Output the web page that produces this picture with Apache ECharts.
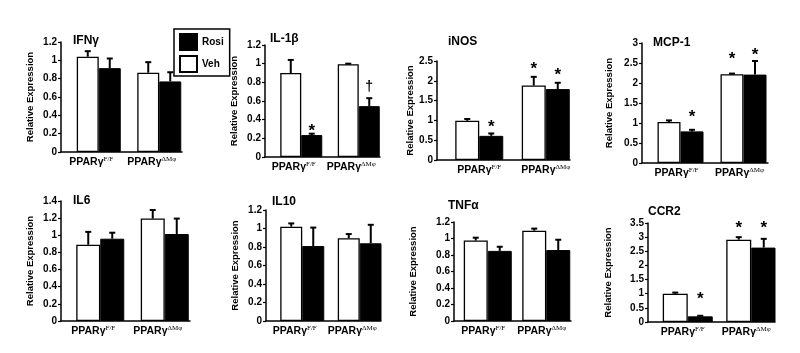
<!DOCTYPE html>
<html>
<head>
<meta charset="utf-8">
<script src="https://cdn.jsdelivr.net/npm/echarts@6/dist/echarts.min.js"></script>
<style>
  html, body { margin: 0; padding: 0; background: #fff; }
  #chart { width: 800px; height: 353px; }
</style>
</head>
<body>
<div id="chart"></div>
<script>
// gene panels, left to right, top row then bottom row
const genes = ['IFNγ', 'IL-1β', 'iNOS', 'MCP-1', 'IL6', 'IL10', 'TNFα', 'CCR2']
const genotypes = ['PPARγF/F', 'PPARγΔMφ']
const yMax = [1.2, 1.2, 2.5, 3, 1.4, 1.2, 1.2, 3.5]
const yStep = [0.2, 0.2, 0.5, 0.5, 0.2, 0.2, 0.2, 0.5]

// mean and top of error bar, [F/F, ΔMφ]
const vehMean = [[1.04, 0.865], [0.90, 0.995], [0.99, 1.88], [1.025, 2.22], [0.89, 1.195], [1.02, 0.895], [0.975, 1.095], [1.0, 2.91]]
const vehTop  = [[1.10, 0.98], [1.04, 1.0], [1.035, 2.10], [1.065, 2.235], [1.04, 1.295], [1.055, 0.94], [1.01, 1.12], [1.04, 3.0]]
const rosiMean = [[0.915, 0.77], [0.235, 0.545], [0.61, 1.79], [0.79, 2.21], [0.96, 1.015], [0.81, 0.84], [0.85, 0.86], [0.20, 2.63]]
const rosiTop  = [[1.02, 0.87], [0.25, 0.63], [0.67, 1.95], [0.83, 2.55], [1.03, 1.195], [1.01, 1.04], [0.90, 0.985], [0.22, 2.94]]

// significance marks: panel, category, group (0 Veh / 1 Rosi), symbol, height
const markPanel = [1, 1, 2, 2, 2, 3, 3, 3, 7, 7, 7]
const markCat   = [0, 1, 0, 1, 1, 0, 1, 1, 0, 1, 1]
const markGroup = [1, 1, 1, 0, 1, 1, 0, 1, 1, 0, 1]
const markText  = ['*', '†', '*', '*', '*', '*', '*', '*', '*', '*', '*']
const markY     = [0.32, 0.75, 0.93, 2.38, 2.23, 1.23, 2.69, 2.78, 0.94, 3.47, 3.47]

// panel layout in pixels: plot left/top/right/bottom, bar width, pair shift, label shift
const panels = [
  { l: 61, t: 42, r: 182, b: 152, bw: 22, d: 7.5, ls: 0, gap: 25.5, tx: 73, ty: 35 },
  { l: 265, t: 45, r: 380, b: 157, bw: 21, d: 7.5, ls: 0, gap: 25.5, tx: 270, ty: 33 },
  { l: 437, t: 61, r: 570, b: 160, bw: 24, d: 9, ls: 9, gap: 21.5, tx: 448, ty: 36 },
  { l: 642, t: 43, r: 768, b: 163, bw: 23, d: 7, ls: 3, gap: 27.5, tx: 653, ty: 37 },
  { l: 61, t: 201, r: 190, b: 321, bw: 24, d: 7, ls: 0, gap: 25.5, tx: 73, ty: 195 },
  { l: 266, t: 210, r: 381, b: 321, bw: 22, d: 7.5, ls: 0, gap: 25.5, tx: 272, ty: 196 },
  { l: 454, t: 222, r: 571, b: 321, bw: 24, d: 4.5, ls: 0, gap: 35.5, tx: 448, ty: 200 },
  { l: 648, t: 223, r: 775, b: 322, bw: 25, d: 8, ls: 3, gap: 34.5, tx: 648, ty: 206 }
]

const FONT = 'Liberation Sans, Arial, sans-serif'

const chart = echarts.init(document.getElementById('chart'))

const grid = [], xAxis = [], yAxis = [], series = [], title = []

panels.forEach((p, i) => {
  grid.push({ left: p.l, top: p.t, width: p.r - p.l, height: p.b - p.t })
  title.push({
    text: genes[i], left: p.tx, top: p.ty, padding: 0,
    textStyle: { fontFamily: FONT, fontWeight: 'bold', fontSize: 12, color: '#000' }
  })
  xAxis.push({
    type: 'category', gridIndex: i, data: genotypes,
    axisLine: { lineStyle: { color: '#000', width: 1.5 } },
    axisTick: { show: false },
    axisLabel: {
      interval: 0, hideOverlap: false, margin: 4, color: '#000',
      formatter: v => '{b|PPARγ}{s|' + v.slice(5) + '}',
      rich: {
        b: { fontFamily: FONT, fontWeight: 'bold', fontSize: 10.5, color: '#000', lineHeight: 12, padding: [0, 0, 0, p.ls * 2] },
        s: { fontFamily: 'Liberation Serif, serif', fontSize: 7, color: '#000', verticalAlign: 'top', lineHeight: 8 }
      }
    }
  })
  yAxis.push({
    type: 'value', gridIndex: i, min: 0, max: yMax[i], interval: yStep[i],
    axisLine: { show: true, lineStyle: { color: '#000', width: 1.5 } },
    axisTick: { show: true, length: 3, lineStyle: { color: '#000', width: 1.2 } },
    splitLine: { show: false },
    axisLabel: { margin: 4, color: '#000', fontFamily: FONT, fontWeight: 'bold', fontSize: 10 },
    name: 'Relative Expression', nameLocation: 'middle', nameGap: p.gap,
    nameTextStyle: { fontFamily: FONT, fontWeight: 'bold', fontSize: 9.5, color: '#000' }
  })

  // invisible spacer pushes each bar pair to the right of the category centre
  series.push({
    type: 'bar', name: 'spacer', xAxisIndex: i, yAxisIndex: i, silent: true,
    barWidth: p.d * 2, barGap: '0%', data: [0, 0],
    itemStyle: { color: 'transparent' }
  })
  series.push({
    type: 'bar', name: 'Veh', xAxisIndex: i, yAxisIndex: i,
    barWidth: p.bw, barGap: '0%', data: vehMean[i],
    itemStyle: { color: '#fff', borderColor: '#000', borderWidth: 1.3 }
  })
  series.push({
    type: 'bar', name: 'Rosi', xAxisIndex: i, yAxisIndex: i,
    barWidth: p.bw, barGap: '0%', data: rosiMean[i],
    itemStyle: { color: '#000', borderColor: '#000', borderWidth: 1 }
  })

  // error bars
  const errData = []
  for (let c = 0; c < 2; c++) {
    errData.push([c, 0, vehMean[i][c], vehTop[i][c]])
    errData.push([c, 1, rosiMean[i][c], rosiTop[i][c]])
  }
  series.push({
    type: 'custom', xAxisIndex: i, yAxisIndex: i, silent: true, z: 5,
    encode: { x: 0, y: [2, 3] },
    data: errData,
    renderItem: (params, api) => {
      const cat = api.value(0)
      const base = api.coord([cat, api.value(2)])
      const top = api.coord([cat, api.value(3)])
      const x = base[0] + p.d + (api.value(1) === 0 ? -p.bw / 2 : p.bw / 2)
      return {
        type: 'group',
        children: [
          { type: 'line', shape: { x1: x, y1: base[1], x2: x, y2: top[1] }, style: { stroke: '#000', lineWidth: 2 } },
          { type: 'line', shape: { x1: x - 3, y1: top[1], x2: x + 3, y2: top[1] }, style: { stroke: '#000', lineWidth: 2 } }
        ]
      }
    }
  })

  // asterisks / dagger
  const idx = []
  markPanel.forEach((mp, k) => { if (mp === i) idx.push(k) })
  if (idx.length) {
    series.push({
      type: 'custom', xAxisIndex: i, yAxisIndex: i, silent: true, z: 6,
      encode: { x: 0, y: 1 },
      data: idx.map(k => [markCat[k], markY[k], markGroup[k], k]),
      renderItem: (params, api) => {
        const k = api.value(3)
        const pt = api.coord([api.value(0), api.value(1)])
        const x = pt[0] + p.d + (api.value(2) === 0 ? -p.bw / 2 : p.bw / 2)
        const star = markText[k] === '*'
        return {
          type: 'text',
          style: {
            x: x, y: pt[1] + (star ? 4 : 0), text: markText[k],
            align: 'center', verticalAlign: 'middle',
            font: 'bold ' + (star ? 17 : 14) + 'px ' + FONT, fill: '#000'
          }
        }
      }
    })
  }
})

chart.setOption({
  backgroundColor: '#fff',
  animation: false,
  title: title,
  legend: {
    data: ['Rosi', 'Veh'],
    orient: 'vertical', left: 174, top: 29,
    icon: 'rect', itemWidth: 17, itemHeight: 16, itemGap: 4,
    padding: [4, 6, 3, 5],
    borderColor: '#000', borderWidth: 1.5,
    textStyle: { fontFamily: FONT, fontWeight: 'bold', fontSize: 10, color: '#000' }
  },
  grid: grid,
  xAxis: xAxis,
  yAxis: yAxis,
  series: series
})
</script>
</body>
</html>
